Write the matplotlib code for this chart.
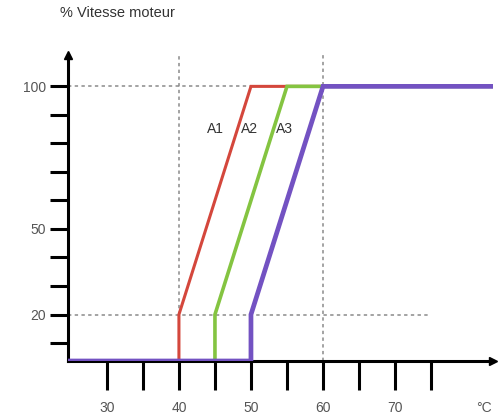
import matplotlib
matplotlib.use('Agg')
import matplotlib.pyplot as plt
import numpy as np

plt.rcParams['font.family'] = ['Liberation Sans', 'DejaVu Sans']

# temperature (degC) and motor speed (%) for the three curves
temp_a1 = [24.6, 40, 40, 50, 83.6]
speed_a1 = [0, 0, 20, 100, 100]
temp_a2 = [24.6, 45, 45, 55, 83.6]
speed_a2 = [0, 0, 20, 100, 100]
temp_a3 = [24.6, 50, 50, 60, 83.6]
speed_a3 = [0, 0, 20, 100, 100]
curve_names = ['A1', 'A2', 'A3']
name_pos_x = [46.2, 51.0, 55.8]
name_pos_y = 85

xticks = [30, 35, 40, 45, 50, 55, 60, 65, 70, 75]
xlabels = ['30', '', '40', '', '50', '', '60', '', '70', '']
yticks = [10, 20, 30, 40, 50, 60, 70, 80, 90, 100]
ylabels = ['', '20', '', '', '50', '', '', '', '', '100']

# schematic axis: the 0..10 band is squeezed
def fwd(y):
    y = np.asarray(y, dtype=float)
    return np.where(y >= 10, y, 3.7 + 0.63 * y)

def inv(u):
    u = np.asarray(u, dtype=float)
    return np.where(u >= 10, u, (u - 3.7) / 0.63)

fig = plt.figure(figsize=(4.98, 4.19), dpi=100)
ax = fig.add_axes([68/498, 58/419, 425/498, 306/419])
ax.set_yscale('function', functions=(fwd, inv))
ax.set_xlim(24.6, 83.6)
ax.set_ylim(0, 111)

grid = dict(color='#8a8a8a', lw=1.1, ls=(0, (2.2, 2.2)), zorder=1)
ax.plot([24.6, 60], [100, 100], **grid)
ax.plot([24.6, 75], [20, 20], **grid)
ax.plot([40, 40], [20, 111], **grid)
ax.plot([60, 60], [0, 111], **grid)

ax.plot(temp_a1, speed_a1, color='#d4473c', lw=2.2, zorder=3, solid_joinstyle='miter')
ax.plot(temp_a2, speed_a2, color='#84c441', lw=2.6, zorder=4, solid_joinstyle='miter')
ax.plot(temp_a3, speed_a3, color='#7352c2', lw=3.4, zorder=5, solid_joinstyle='miter')

for name, x in zip(curve_names, name_pos_x):
    ax.text(x, name_pos_y, name, fontsize=10, color='#333333', ha='right', va='center', zorder=6)

for s in ['top', 'right']:
    ax.spines[s].set_visible(False)
for s in ['left', 'bottom']:
    ax.spines[s].set_linewidth(2.2)
    ax.spines[s].set_color('black')
    ax.spines[s].set_zorder(2)

ax.plot(1, 0, '>k', ms=5.5, transform=ax.transAxes, clip_on=False)
ax.plot(0, 1, '^k', ms=5.5, transform=ax.transAxes, clip_on=False)

ax.set_xticks(xticks)
ax.set_xticklabels(xlabels)
ax.set_yticks(yticks)
ax.set_yticklabels(ylabels)
ax.yaxis.set_minor_locator(matplotlib.ticker.NullLocator())
ax.tick_params(axis='x', direction='out', length=21, width=2.2, pad=8, labelsize=10, labelcolor='#555555')
ax.tick_params(axis='y', direction='out', length=13, width=2.2, pad=3, labelsize=10, labelcolor='#555555')

ax.text(82.3, -0.155, '°C', transform=ax.get_xaxis_transform(), fontsize=10, color='#555555', ha='center', va='center')
fig.text(60/498, 1 - 13/419, '% Vitesse moteur', fontsize=10.5, color='#333333', ha='left', va='center')

fig.savefig('out.png', dpi=100)
